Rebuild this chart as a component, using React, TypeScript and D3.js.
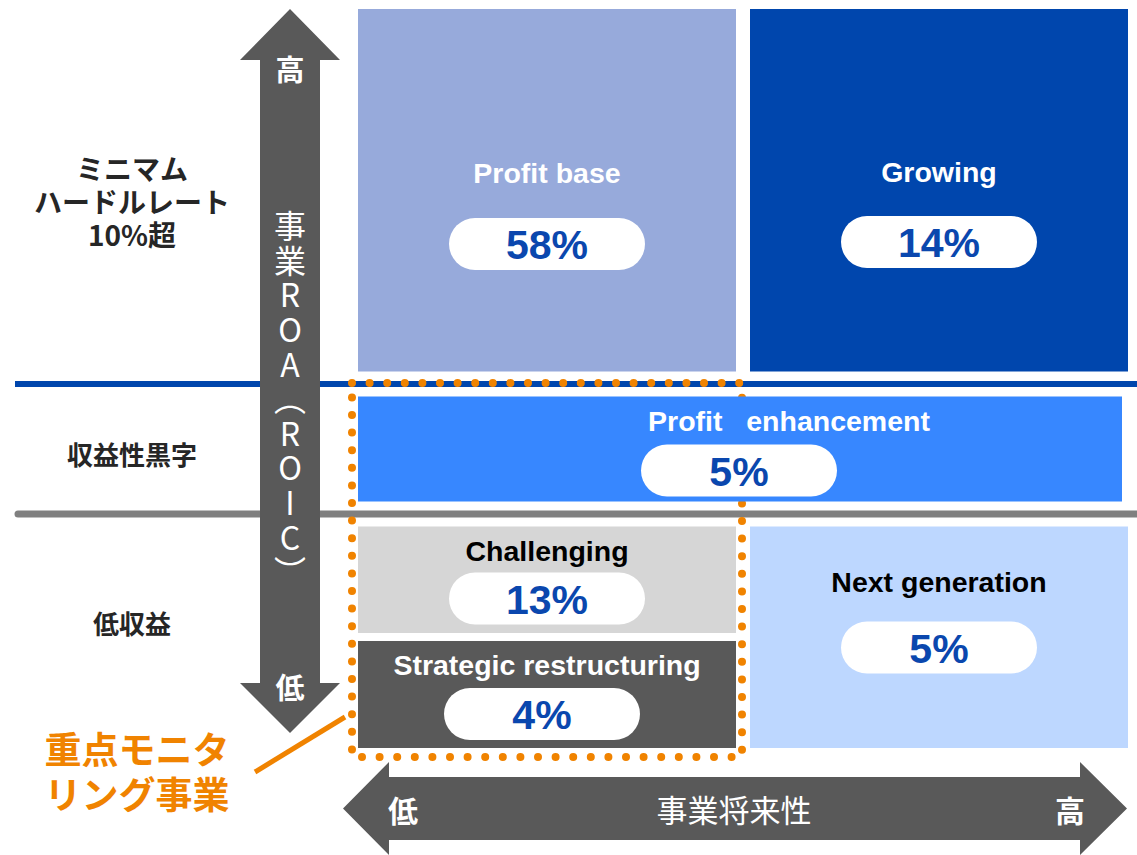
import React from "react";
import * as d3 from "d3";

// business portfolio matrix: share of invested capital per segment
const segmentNames = ["Profit base", "Growing", "Profit   enhancement", "Challenging", "Strategic restructuring", "Next generation"];
const segmentShares = [58, 14, 5, 13, 4, 5];
const segmentCols: [number, number][] = [[0, 1], [1, 2], [0, 2], [0, 1], [0, 1], [1, 2]];
const segmentRows: [number, number][] = [[0, 1], [0, 1], [1, 2], [2, 3], [3, 4], [2, 4]];

const rowLabels = [["ミニマム", "ハードルレート", "10%超"], ["収益性黒字"], ["低収益"]];
const rowLabelRows: [number, number][] = [[0, 1], [1, 2], [2, 4]];
const yTitle = "事業ROA（ROIC）";
const xTitle = "事業将来性";
const axisEnds = ["低", "高"];
const calloutLines = ["重点モニタ", "リング事業"];

// styles / layout
const fills = ["#97AADB", "#0046AD", "#3787FF", "#D6D6D6", "#595959", "#BDD7FF"];
const inks = ["#FFFFFF", "#FFFFFF", "#FFFFFF", "#000000", "#FFFFFF", "#000000"];
const labelDy = [164, 163, 24, 24, 24, 55];
const labelDx = [0, 0, 49, 0, 0, 0];
const pillDy = [235, 233, 74, 72, 73, 121];
const pillDx = [0, 0, -1, 0, -5, 0];

const W = 1137;
const H = 855;
const SANS = "'Liberation Sans', Arial, sans-serif";
const JP = "'Noto Sans CJK JP', 'Noto Sans', sans-serif";
const ARROW = "#595959";
const ORANGE = "#F08300";
const VALUE = "#0A47AE";

export default function App() {
  const x = d3.scaleLinear().domain([0, 1, 2]).range([358, 743, 1128]);
  const y = d3.scaleLinear().domain([0, 1, 2, 3, 4]).range([9, 384, 514, 637, 748]);
  const colGap = (c: number) => (c === 1 ? 7 : 0);
  const rowGap = (r: number) => (r === 1 || r === 2 ? 12.5 : r === 3 ? 4 : 0);

  // arrows
  const vx = 290, vTop = 9, vBot = 733;
  const vArrow = d3.path();
  vArrow.moveTo(vx, vTop);
  vArrow.lineTo(vx + 50, vTop + 51);
  vArrow.lineTo(vx + 30, vTop + 51);
  vArrow.lineTo(vx + 30, vBot - 50);
  vArrow.lineTo(vx + 50, vBot - 50);
  vArrow.lineTo(vx, vBot);
  vArrow.lineTo(vx - 50, vBot - 50);
  vArrow.lineTo(vx - 30, vBot - 50);
  vArrow.lineTo(vx - 30, vTop + 51);
  vArrow.lineTo(vx - 50, vTop + 51);
  vArrow.closePath();

  const hy = 808.5, hL = 343, hR = 1127;
  const hArrow = d3.path();
  hArrow.moveTo(hL, hy);
  hArrow.lineTo(hL + 46, hy - 46.5);
  hArrow.lineTo(hL + 46, hy - 31.5);
  hArrow.lineTo(hR - 47, hy - 31.5);
  hArrow.lineTo(hR - 47, hy - 46.5);
  hArrow.lineTo(hR, hy);
  hArrow.lineTo(hR - 47, hy + 46.5);
  hArrow.lineTo(hR - 47, hy + 31.5);
  hArrow.lineTo(hL + 46, hy + 31.5);
  hArrow.lineTo(hL + 46, hy + 46.5);
  hArrow.closePath();

  return (
    <svg width={W} height={H} style={{ position: "absolute", left: 0, top: 0, background: "#fff" }}>
      {/* threshold lines */}
      <line x1={15} x2={W} y1={y(1)} y2={y(1)} stroke="#0046AD" strokeWidth={6} />
      <line x1={18} x2={W + 10} y1={y(2)} y2={y(2)} stroke="#808080" strokeWidth={7} strokeLinecap="round" />

      {/* monitored businesses outline (boxes sit on top of it) */}
      <rect x={352} y={383} width={390} height={374} fill="none" stroke={ORANGE} strokeWidth={8}
        strokeLinecap="round" strokeDasharray="0 17.6" />

      {/* segment boxes */}
      {segmentNames.map((name, i) => {
        const [c0, c1] = segmentCols[i];
        const [r0, r1] = segmentRows[i];
        const left = x(c0) + colGap(c0);
        const right = x(c1) - colGap(c1) - (c1 - c0 === 2 ? 6 : 0);
        const top = y(r0) + rowGap(r0);
        const bottom = y(r1) - rowGap(r1);
        const cx = (left + right) / 2;
        const pcx = cx + pillDx[i];
        const pcy = top + pillDy[i];
        return (
          <g key={name}>
            <rect x={left} y={top} width={right - left} height={bottom - top} fill={fills[i]} />
            <text x={cx + labelDx[i]} y={top + labelDy[i]} fill={inks[i]} fontFamily={SANS} fontWeight="bold"
              fontSize={28.5} textAnchor="middle" dominantBaseline="central" style={{ whiteSpace: "pre" }}>
              {name}
            </text>
            <rect x={pcx - 98} y={pcy - 26} width={196} height={52} rx={26} fill="#fff" />
            <text x={pcx} y={pcy + 1} fill={VALUE} fontFamily={SANS} fontWeight="bold" fontSize={41}
              textAnchor="middle" dominantBaseline="central">
              {segmentShares[i]}%
            </text>
          </g>
        );
      })}

      <line x1={255} y1={772} x2={345} y2={717} stroke={ORANGE} strokeWidth={5} />
      <text fill={ORANGE} fontFamily={JP} fontWeight="bold" fontSize={37} textAnchor="middle"
        dominantBaseline="central">
        {calloutLines.map((t, i) => (
          <tspan key={t} x={137} y={748 + i * 45}>{t}</tspan>
        ))}
      </text>

      {/* row labels */}
      {rowLabels.map((lines, i) => {
        const [r0, r1] = rowLabelRows[i];
        const cy = (y(r0) + y(r1)) / 2 + (i === 2 ? -9 : 4);
        return (
          <text key={i} fill="#262626" fontFamily={JP} fontWeight="bold" fontSize={i === 0 ? 28 : 26}
            textAnchor="middle" dominantBaseline="central">
            {lines.map((t, j) => (
              <tspan key={t} x={132} y={cy + (j - (lines.length - 1) / 2) * 33}>{t}</tspan>
            ))}
          </text>
        );
      })}

      {/* vertical axis arrow */}
      <path d={vArrow.toString()} fill={ARROW} />
      <text x={vx} y={68} fill="#fff" fontFamily={JP} fontWeight="bold" fontSize={29} textAnchor="middle"
        dominantBaseline="central">{axisEnds[1]}</text>
      <text x={vx} y={686} fill="#fff" fontFamily={JP} fontWeight="bold" fontSize={29} textAnchor="middle"
        dominantBaseline="central">{axisEnds[0]}</text>
      <text x={vx} y={210} fill="#fff" fontFamily={JP} fontWeight={400} fontSize={32}
        letterSpacing={2.6}
        style={{ writingMode: "vertical-rl", textOrientation: "upright" } as React.CSSProperties}>
        {yTitle}
      </text>

      {/* horizontal axis arrow */}
      <path d={hArrow.toString()} fill={ARROW} />
      <text x={403} y={hy} fill="#fff" fontFamily={JP} fontWeight="bold" fontSize={30} textAnchor="middle"
        dominantBaseline="central">{axisEnds[0]}</text>
      <text x={1070} y={hy} fill="#fff" fontFamily={JP} fontWeight="bold" fontSize={30} textAnchor="middle"
        dominantBaseline="central">{axisEnds[1]}</text>
      <text x={734} y={hy} fill="#fff" fontFamily={JP} fontWeight={400} fontSize={31} textAnchor="middle"
        dominantBaseline="central">{xTitle}</text>
    </svg>
  );
}
